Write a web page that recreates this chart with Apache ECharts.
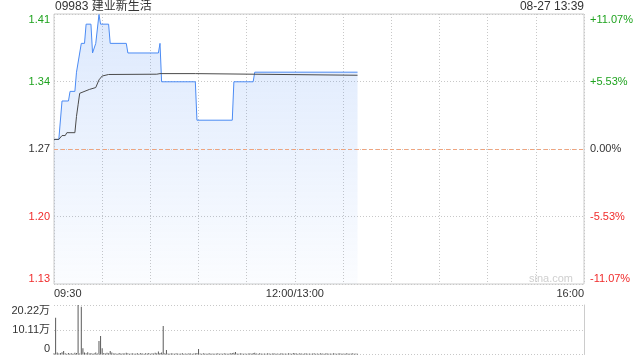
<!DOCTYPE html>
<html><head><meta charset="utf-8">
<script src="https://cdn.jsdelivr.net/npm/echarts@6/dist/echarts.min.js"></script>
<style>html,body{margin:0;padding:0;background:#fff}#c{width:640px;height:360px}</style>
</head><body><div id="c"></div>
<script>
// ---- data ----
const titleText = '09983 建业新生活';
const stampText = '08-27 13:39';
const prevClose = 1.27;
const pctLimit = 11.07;
const priceTickLabels = ['1.13', '1.20', '1.27', '1.34', '1.41'];
const pctTickLabels = ['-11.07%', '-5.53%', '0.00%', '+5.53%', '+11.07%'];
const volTickLabels = ['0', '10.11万', '20.22万'];
const volMax = 202200;
const timeTickMinutes = [0, 150, 330];
const timeTickLabels = ['09:30', '12:00/13:00', '16:00'];

// price (minutes since 09:30, lunch removed) at points where the line turns
const priceMinutes = [0, 3, 5, 9, 10, 13, 14, 15, 17, 19, 20, 23, 24, 25, 26, 28, 29, 34, 35, 45, 46, 65, 66, 67, 88, 89, 111, 112, 124, 125, 189];
const priceValues  = [1.28, 1.28, 1.32, 1.32, 1.33, 1.33, 1.35, 1.35, 1.38, 1.38, 1.40, 1.40, 1.37, 1.37, 1.38, 1.41, 1.40, 1.40, 1.38, 1.38, 1.37, 1.37, 1.38, 1.34, 1.34, 1.30, 1.30, 1.34, 1.34, 1.35, 1.35];

// average price line turning points
const avgMinutes = [0, 3, 5, 7, 8, 13, 14, 15, 16, 17, 22, 26, 28, 30, 34, 64, 66, 88, 89, 189];
const avgValues  = [1.280, 1.280, 1.284, 1.284, 1.287, 1.287, 1.304, 1.316, 1.328, 1.330, 1.332, 1.334, 1.342, 1.346, 1.3476, 1.3479, 1.3485, 1.3485, 1.3468, 1.3468];

// volume per minute, in 万 shares (minute 0 .. 189)
const volumeWan = [
  0.5, 15.0, 0.8, 0.4, 0.6, 0.9, 1.4, 0.5, 0.3, 0.6,
  0.4, 0.5, 0.3, 0.7, 0.6, 20.22, 0.4, 19.5, 2.6, 0.8,
  0.5, 0.9, 0.4, 0.6, 0.3, 0.5, 0.8, 0.4, 5.5, 7.6,
  2.6, 0.6, 0.4, 0.7, 0.5, 1.4, 0.8, 0.4, 0.5, 0.3,
  0.4, 0.6, 0.3, 0.5, 0.4, 0.7, 0.5, 0.3, 0.4, 0.5,
  0.3, 0.4, 0.5, 0.3, 0.6, 0.4, 0.3, 0.5, 0.4, 0.6,
  0.3, 0.5, 0.4, 0.7, 0.5, 1.2, 0.6, 0.8, 11.6, 0.5,
  1.8, 0.4, 0.3, 0.5, 0.4, 0.3, 0.5, 0.4, 0.3, 0.4,
  0.5, 0.3, 0.4, 0.3, 0.5, 0.4, 0.3, 0.4, 0.5, 0.6,
  2.2, 0.4, 0.3, 0.5, 0.4, 0.3, 0.4, 0.5, 0.3, 0.4,
  0.3, 0.4, 0.5, 0.3, 0.4, 0.3, 0.5, 0.4, 0.3, 0.4,
  0.5, 0.6, 0.7, 1.0, 0.4, 0.3, 0.5, 0.4, 0.3, 0.4,
  0.3, 0.4, 0.5, 0.3, 0.6, 0.7, 0.4, 0.3, 0.5, 0.4,
  0.3, 0.4, 0.3, 0.5, 0.4, 0.3, 0.4, 0.5, 0.3, 0.4,
  0.3, 0.4, 0.5, 0.3, 0.4, 0.3, 0.5, 0.4, 0.3, 0.6,
  0.5, 0.4, 0.3, 0.5, 0.4, 0.3, 0.4, 0.5, 0.3, 0.4,
  0.3, 0.4, 0.5, 0.3, 0.4, 0.3, 0.5, 0.4, 0.3, 0.4,
  0.5, 0.3, 0.4, 0.3, 0.5, 0.4, 0.3, 0.4, 0.5, 0.3,
  0.4, 0.3, 0.5, 0.4, 0.3, 0.4, 0.5, 0.3, 0.4, 0.3
];

// ---- chart ----
const FONT = "'Liberation Sans', Arial, 'Noto Sans CJK SC', sans-serif";
const GREEN = '#1fa31f', RED = '#f02b2b', DARK = '#333';
const priceLow = prevClose * (1 - pctLimit / 100);
const priceHigh = prevClose * (1 + pctLimit / 100);
const idx = v => Math.round(v) + 2;
const sideColor = v => { const i = Math.round(v); return i > 0 ? GREEN : (i < 0 ? RED : DARK); };
const dotted = { type: [1, 2], color: '#c8c8c8', width: 1 };

const chart = echarts.init(document.getElementById('c'), null, { renderer: 'canvas' });
chart.setOption({
  animation: false,
  textStyle: { fontFamily: FONT },
  title: [
    { text: titleText, left: 55, top: 1, textStyle: { fontSize: 12, fontWeight: 'normal', color: DARK, fontFamily: FONT }, padding: 0 },
    { text: stampText, right: 56, top: 1, textStyle: { fontSize: 12, fontWeight: 'normal', color: DARK, fontFamily: FONT }, padding: 0 }
  ],
  graphic: [{
    type: 'text', right: 67, top: 273, silent: true,
    style: { text: 'sina.com', fill: '#cfcfcf', font: '11px ' + FONT }
  }],
  grid: [
    { left: 54, right: 56, top: 14, height: 270, show: true, borderColor: '#cccccc', borderWidth: 1, backgroundColor: 'transparent' },
    { left: 54, right: 56, top: 305, height: 49.5 }
  ],
  xAxis: [
    { gridIndex: 0, type: 'value', min: 0, max: 330, interval: 30,
      axisLine: { show: false }, axisTick: { show: false },
      splitLine: { show: true, lineStyle: dotted },
      axisLabel: { show: true, margin: 4, fontSize: 11, color: DARK, fontFamily: FONT,
        alignMinLabel: 'left', alignMaxLabel: 'right', showMinLabel: true, showMaxLabel: true,
        formatter: v => { const i = timeTickMinutes.indexOf(Math.round(v)); return i >= 0 ? timeTickLabels[i] : ''; } } },
    { gridIndex: 1, type: 'value', min: 0, max: 330, interval: 30,
      axisLine: { show: false }, axisTick: { show: false }, splitLine: { show: false }, axisLabel: { show: false } }
  ],
  yAxis: [
    { gridIndex: 0, type: 'value', min: priceLow, max: priceHigh, show: false, splitLine: { show: false } },
    { gridIndex: 0, type: 'value', position: 'left', min: -2, max: 2, interval: 1,
      axisLine: { show: false }, axisTick: { show: false },
      splitLine: { show: true, lineStyle: dotted },
      axisLabel: { margin: 4, fontSize: 11, fontFamily: FONT,
        verticalAlignMinLabel: 'bottom', verticalAlignMaxLabel: 'top',
        color: v => sideColor(v), formatter: v => priceTickLabels[idx(v)] } },
    { gridIndex: 0, type: 'value', position: 'right', min: -2, max: 2, interval: 1,
      axisLine: { show: false }, axisTick: { show: false }, splitLine: { show: false },
      axisLabel: { margin: 6, fontSize: 11, fontFamily: FONT,
        verticalAlignMinLabel: 'bottom', verticalAlignMaxLabel: 'top',
        color: v => sideColor(v), formatter: v => pctTickLabels[idx(v)] } },
    { gridIndex: 1, type: 'value', position: 'left', min: 0, max: volMax, interval: volMax / 2,
      axisLine: { show: false }, axisTick: { show: false },
      splitLine: { show: true, lineStyle: dotted },
      axisLabel: { margin: 4, fontSize: 11, color: DARK, fontFamily: FONT,
        verticalAlignMinLabel: 'bottom', verticalAlignMaxLabel: 'top',
        formatter: v => volTickLabels[Math.round(v / (volMax / 2))] } },
    { gridIndex: 1, type: 'value', position: 'right', min: 0, max: 1,
      axisLine: { show: true, lineStyle: { color: '#cccccc', width: 1 } },
      axisTick: { show: false }, axisLabel: { show: false }, splitLine: { show: false } }
  ],
  series: [
    { type: 'line', xAxisIndex: 0, yAxisIndex: 0, showSymbol: false, silent: true,
      data: priceMinutes.map((m, i) => [m, priceValues[i]]),
      lineStyle: { color: '#4b8bf4', width: 1 },
      areaStyle: { origin: 'start', color: new echarts.graphic.LinearGradient(0, 0, 0, 1, [
        { offset: 0, color: 'rgba(66,133,244,0.26)' },
        { offset: 1, color: 'rgba(66,133,244,0.03)' }]) },
      markLine: { silent: true, symbol: ['none', 'none'], label: { show: false },
        lineStyle: { type: [4, 3], color: '#f0a47e', width: 1 },
        data: [{ yAxis: prevClose }] },
      z: 2 },
    { type: 'line', xAxisIndex: 0, yAxisIndex: 0, showSymbol: false, silent: true,
      data: avgMinutes.map((m, i) => [m, avgValues[i]]),
      lineStyle: { color: '#4a4a4a', width: 1 }, z: 3 },
    { type: 'bar', xAxisIndex: 1, yAxisIndex: 3, silent: true, barWidth: 1,
      data: volumeWan.map((v, m) => [m, v * 10000]),
      itemStyle: { color: '#5a5a5a' } }
  ]
});
</script>
</body></html>
